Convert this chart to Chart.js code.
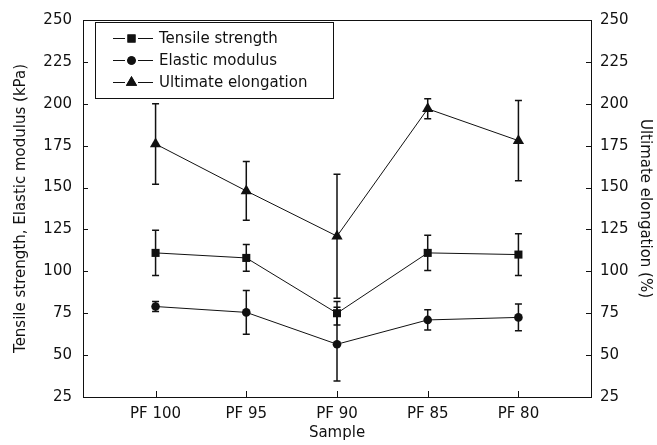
<!DOCTYPE html>
<html>
<head>
<meta charset="utf-8">
<script src="https://cdn.jsdelivr.net/npm/chart.js@4/dist/chart.umd.min.js"></script>
<style>
  html, body { margin: 0; padding: 0; background: #fff; }
  #wrap { width: 657px; height: 445px; }
</style>
</head>
<body>
<div id="wrap"><canvas id="chart"></canvas></div>
<script>
  // --- data ---
  const samples = ['PF 100', 'PF 95', 'PF 90', 'PF 85', 'PF 80'];
  const tensile = [111, 108, 75, 111, 110];
  const tensileErr = [13.5, 8, 7, 10.5, 12.5];
  const modulus = [79, 75.5, 56.5, 71, 72.5];
  const modulusErr = [3, 13, 22, 6, 8];
  const elongation = [176, 148, 121, 197, 178];
  const elongationErr = [24, 17.5, 37, 6, 24];
  const yTicks = [25, 50, 75, 100, 125, 150, 175, 200, 225, 250];

  const FONT = 'DejaVu Sans';
  const INK = '#111';

  function pts(vals) {
    return vals.map((v, i) => ({ x: i, y: v }));
  }

  // error bars, drawn from the same scales as the points
  const errorBars = {
    id: 'errorBars',
    afterDatasetsDraw(chart) {
      const ctx = chart.ctx;
      chart.data.datasets.forEach((ds, di) => {
        const meta = chart.getDatasetMeta(di);
        const ys = chart.scales[ds.yAxisID];
        ctx.save();
        ctx.strokeStyle = INK;
        ctx.lineWidth = 1.5;
        meta.data.forEach((pt, i) => {
          const v = ds.data[i].y, e = ds.err[i];
          const top = ys.getPixelForValue(v + e);
          const bot = ys.getPixelForValue(v - e);
          ctx.beginPath();
          ctx.moveTo(pt.x, top); ctx.lineTo(pt.x, bot);
          ctx.moveTo(pt.x - 3.5, top); ctx.lineTo(pt.x + 3.5, top);
          ctx.moveTo(pt.x - 3.5, bot); ctx.lineTo(pt.x + 3.5, bot);
          ctx.stroke();
        });
        ctx.restore();
      });
    }
  };

  // frame, inward ticks and the boxed legend
  const frame = {
    id: 'frame',
    afterDraw(chart) {
      const ctx = chart.ctx;
      const a = chart.chartArea;
      ctx.save();
      ctx.strokeStyle = INK;
      ctx.lineWidth = 1;
      ctx.beginPath();
      ctx.moveTo(a.left, a.top + 0.5); ctx.lineTo(a.right, a.top + 0.5);
      chart.scales.y.ticks.forEach(t => {
        const y = Math.round(chart.scales.y.getPixelForValue(t.value)) + 0.5;
        ctx.moveTo(a.left, y); ctx.lineTo(a.left + 5, y);
      });
      chart.scales.y2.ticks.forEach(t => {
        const y = Math.round(chart.scales.y2.getPixelForValue(t.value)) + 0.5;
        ctx.moveTo(a.right - 5, y); ctx.lineTo(a.right, y);
      });
      chart.scales.x.ticks.forEach(t => {
        const x = Math.round(chart.scales.x.getPixelForValue(t.value)) + 0.5;
        ctx.moveTo(x, a.bottom); ctx.lineTo(x, a.bottom - 6);
      });
      ctx.stroke();

      // legend box
      const bx = 95.5, by = 22.5, bw = 238, bh = 76;
      ctx.fillStyle = '#fff';
      ctx.fillRect(bx, by, bw, bh);
      ctx.strokeRect(bx, by, bw, bh);
      ctx.font = '15px "' + FONT + '"';
      ctx.textBaseline = 'middle';
      ctx.fillStyle = INK;
      chart.data.datasets.forEach((ds, i) => {
        const cy = Math.round(38 + i * 22) + 0.5;
        ctx.beginPath();
        ctx.moveTo(113, cy); ctx.lineTo(125, cy);
        ctx.moveTo(138, cy); ctx.lineTo(153, cy);
        ctx.stroke();
        Chart.helpers.drawPoint(ctx, {
          pointStyle: ds.pointStyle, radius: ds.pointRadius, borderWidth: 0
        }, 131.5, cy);
        ctx.fill();
        ctx.fillText(ds.label, 159, cy + 1);
      });
      ctx.restore();
    }
  };

  function series(label, vals, errs, style, radius, axis) {
    return {
      label: label,
      data: pts(vals),
      err: errs,
      yAxisID: axis,
      borderColor: INK,
      borderWidth: 1,
      backgroundColor: INK,
      pointStyle: style,
      pointRadius: radius,
      pointBorderWidth: 0,
      pointBackgroundColor: INK,
      tension: 0
    };
  }

  function yAxis(pos, pad, titleText, titlePad) {
    return {
      position: pos,
      min: 25, max: 250,
      afterBuildTicks: s => { s.ticks = yTicks.map(v => ({ value: v })); },
      afterFit: s => { s.width = pos === 'left' ? 83 : 66; },
      grid: { drawOnChartArea: false, drawTicks: false },
      border: { display: true, color: INK, width: 1 },
      ticks: { color: INK, padding: pad, font: { family: FONT, size: 15 } },
      title: {
        display: true, text: titleText, color: INK,
        padding: { top: titlePad, bottom: 0 },
        font: { family: FONT, size: 15 }
      }
    };
  }

  new Chart(document.getElementById('chart'), {
    type: 'line',
    data: {
      datasets: [
        series('Tensile strength', tensile, tensileErr, 'rect', 5.7, 'y'),
        series('Elastic modulus', modulus, modulusErr, 'circle', 4.3, 'y'),
        series('Ultimate elongation', elongation, elongationErr, 'triangle', 6.5, 'y2')
      ]
    },
    options: {
      responsive: true,
      maintainAspectRatio: false,
      animation: false,
      layout: { padding: { top: 18, left: 0, right: 0, bottom: 0 } },
      plugins: { legend: { display: false }, tooltip: { enabled: false } },
      scales: {
        x: {
          type: 'linear',
          min: -0.8, max: 4.8,
          afterBuildTicks: s => { s.ticks = samples.map((_, i) => ({ value: i })); },
          afterFit: s => { s.height = 48; },
          grid: { drawOnChartArea: false, drawTicks: false },
          border: { display: true, color: INK, width: 1 },
          ticks: {
            color: INK, padding: 8, maxRotation: 0,
            font: { family: FONT, size: 15 },
            callback: v => samples[v]
          },
          title: {
            display: true, text: 'Sample', color: INK,
            padding: { top: 0, bottom: 3 },
            font: { family: FONT, size: 15 }
          }
        },
        y: yAxis('left', 11, 'Tensile strength, Elastic modulus (kPa)', 12),
        y2: yAxis('right', 9, 'Ultimate elongation (%)', 3)
      }
    },
    plugins: [errorBars, frame]
  });
</script>
</body>
</html>
